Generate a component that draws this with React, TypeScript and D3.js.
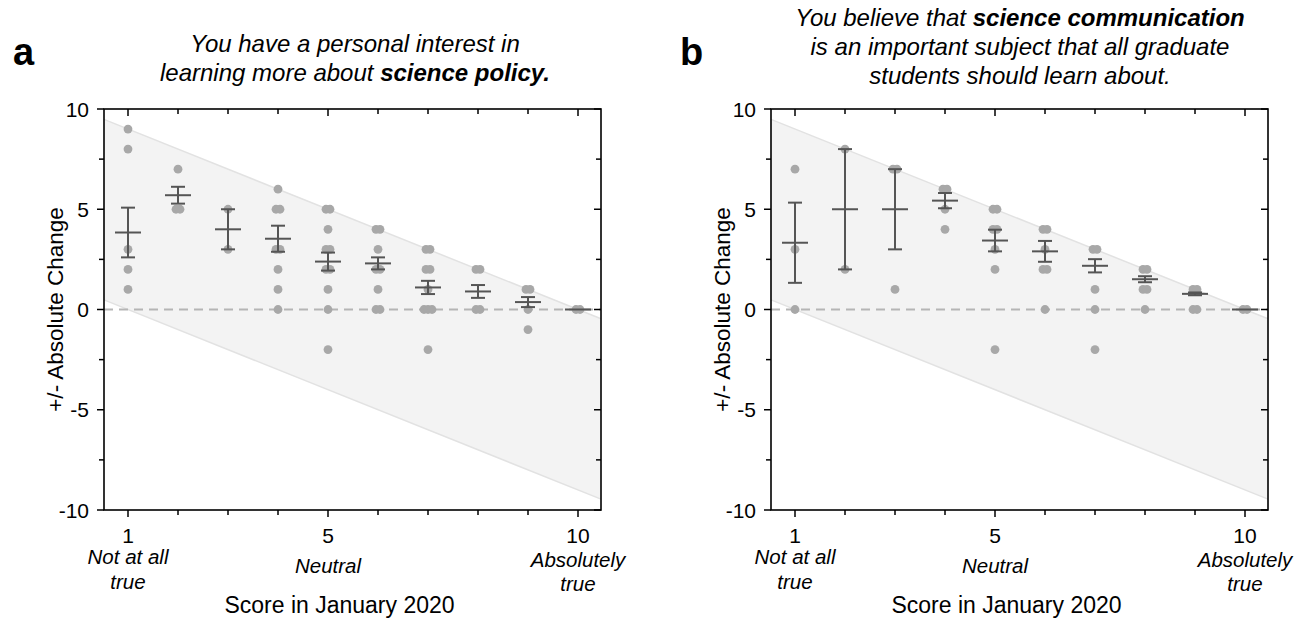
import React from 'react';
import * as d3 from 'd3';

// Score in January 2020 (x positions)
const scores = [1, 2, 3, 4, 5, 6, 7, 8, 9, 10];

// Panel a: personal interest in science policy – individual changes per score
const policyPoints: number[][] = [
  [9, 8, 3, 2, 1],
  [7, 5, 5],
  [5, 3],
  [6, 5, 5, 3, 3, 2, 1, 0],
  [5, 5, 4, 3, 3, 2, 2, 1, 0, -2],
  [4, 4, 3, 2, 2, 1, 0, 0],
  [3, 3, 2, 2, 1, 0, 0, 0, -2],
  [2, 2, 0, 0],
  [1, 1, 0, -1],
  [0, 0],
];
const policyMean = [3.84, 5.7, 4.0, 3.53, 2.39, 2.3, 1.1, 0.9, 0.37, 0];
const policyErr = [1.24, 0.42, 1.0, 0.65, 0.45, 0.3, 0.33, 0.32, 0.25, 0];

// Panel b: science communication is important for all graduate students
const commPoints: number[][] = [
  [7, 3, 0],
  [8, 2],
  [7, 7, 1],
  [6, 6, 5, 4],
  [5, 5, 4, 4, 3, 2, -2],
  [4, 4, 3, 2, 2, 0],
  [3, 3, 1, 0, -2],
  [2, 2, 1, 1, 0],
  [1, 1, 0, 0],
  [0, 0],
];
const commMean = [3.33, 5.0, 5.0, 5.43, 3.44, 2.9, 2.18, 1.51, 0.78, 0];
const commErr = [2.0, 3.0, 2.0, 0.38, 0.54, 0.52, 0.33, 0.15, 0.07, 0];

const yTicks = [-10, -7.5, -5, -2.5, 0, 2.5, 5, 7.5, 10];
const yLabels = [-10, -5, 0, 5, 10];
const xLabels = [1, 5, 10];

const FONT = '"Liberation Sans", Arial, sans-serif';
const TOP = 109;
const BOTTOM = 510;

interface PanelProps {
  left: number;
  right: number;
  letter: string;
  titleLines: React.ReactNode[];
  titleX: number;
  titleY: number;
  points: number[][];
  mean: number[];
  err: number[];
}

const Panel: React.FC<PanelProps> = ({ left, right, letter, titleLines, titleX, titleY, points, mean, err }) => {
  const x = d3.scaleLinear().domain([0.52, 10.46]).range([left, right]);
  const y = d3.scaleLinear().domain([-10, 10]).range([BOTTOM, TOP]);

  // band of possible changes: between 1 - score and 10 - score
  const [x0, x1] = x.domain();
  const band = d3.area<number>()
    .x(d => x(d))
    .y0(d => y(1 - d))
    .y1(d => y(10 - d));
  const edgeTop = d3.line<number>().x(d => x(d)).y(d => y(10 - d));
  const edgeBot = d3.line<number>().x(d => x(d)).y(d => y(1 - d));

  // overlapping answers are nudged sideways a little
  const dots: { cx: number; cy: number }[] = [];
  points.forEach((vals, i) => {
    const groups = d3.rollup(vals, v => v.length, v => v);
    groups.forEach((n, v) => {
      for (let k = 0; k < n; k++) {
        dots.push({ cx: x(scores[i]) + (k - (n - 1) / 2) * 4, cy: y(v) });
      }
    });
  });

  const italic = { fontSize: 20.5, fontStyle: 'italic', textAnchor: 'middle' } as const;

  return (
    <g fontFamily={FONT}>
      <text x={left - 91} y={65} fontSize={38} fontWeight="bold">{letter}</text>
      {titleLines.map((t, i) => (
        <text key={i} x={titleX} y={titleY + i * 29} fontSize={24} fontStyle="italic" textAnchor="middle">{t}</text>
      ))}

      <path d={band([x0, x1]) || ''} fill="#f3f3f3" />
      <path d={edgeTop([x0, x1]) || ''} stroke="#e2e2e2" strokeWidth={1.5} fill="none" />
      <path d={edgeBot([x0, x1]) || ''} stroke="#e2e2e2" strokeWidth={1.5} fill="none" />
      <line x1={left} x2={right} y1={y(0)} y2={y(0)} stroke="#b5b5b5" strokeWidth={2} strokeDasharray="9,6" />

      {dots.map((d, i) => (
        <circle key={i} cx={d.cx} cy={d.cy} r={4.4} fill="#a8a8a8" />
      ))}

      {scores.map((s, i) => {
        const cx = x(s);
        const m = y(mean[i]);
        const hi = y(mean[i] + err[i]);
        const lo = y(mean[i] - err[i]);
        return (
          <g key={s} stroke="#555" strokeWidth={2}>
            <line x1={cx - 13} x2={cx + 13} y1={m} y2={m} />
            {err[i] > 0 && (
              <>
                <line x1={cx} x2={cx} y1={hi} y2={lo} />
                <line x1={cx - 7} x2={cx + 7} y1={hi} y2={hi} />
                <line x1={cx - 7} x2={cx + 7} y1={lo} y2={lo} />
              </>
            )}
          </g>
        );
      })}

      {/* frame */}
      <rect x={left} y={TOP} width={right - left} height={BOTTOM - TOP} fill="none" stroke="#000" strokeWidth={1.6} />

      {/* x ticks: outward on bottom, inward on top */}
      {scores.map(s => {
        const len = xLabels.includes(s) ? 7 : 5;
        return (
          <g key={s} stroke="#000" strokeWidth={1.5}>
            <line x1={x(s)} x2={x(s)} y1={BOTTOM} y2={BOTTOM + len} />
            <line x1={x(s)} x2={x(s)} y1={TOP} y2={TOP + len} />
          </g>
        );
      })}
      {/* y ticks: outward on left, inward on right */}
      {yTicks.map(t => {
        const len = yLabels.includes(t) ? 7 : 5;
        return (
          <g key={t} stroke="#000" strokeWidth={1.5}>
            <line x1={left - len} x2={left} y1={y(t)} y2={y(t)} />
            <line x1={right - len} x2={right} y1={y(t)} y2={y(t)} />
          </g>
        );
      })}
      {yLabels.map(t => (
        <text key={t} x={left - 15} y={y(t) + 7.5} fontSize={21} textAnchor="end">{t}</text>
      ))}
      {xLabels.map(t => (
        <text key={t} x={x(t)} y={543} fontSize={21} textAnchor="middle">{t}</text>
      ))}

      <text x={x(1)} y={564} {...italic}>Not at all</text>
      <text x={x(1)} y={589} {...italic}>true</text>
      <text x={x(5)} y={573} {...italic}>Neutral</text>
      <text x={x(10)} y={567} {...italic}>Absolutely</text>
      <text x={x(10)} y={591} {...italic}>true</text>
      <text x={(left + right) / 2 - 13} y={613} fontSize={23} textAnchor="middle">Score in January 2020</text>

      <text transform={`translate(${left - 41},${y(0)}) rotate(-90)`} fontSize={22.5} textAnchor="middle">+/- Absolute Change</text>
    </g>
  );
};

const App: React.FC = () => (
  <svg width={1307} height={618} style={{ position: 'absolute', left: 0, top: 0, background: '#fff' }}>
    <Panel
      left={104}
      right={601}
      letter="a"
      titleX={355}
      titleY={52}
      titleLines={[
        'You have a personal interest in',
        <>learning more about <tspan fontWeight="bold">science policy.</tspan></>,
      ]}
      points={policyPoints}
      mean={policyMean}
      err={policyErr}
    />
    <Panel
      left={771}
      right={1268}
      letter="b"
      titleX={1020}
      titleY={26}
      titleLines={[
        <>You believe that <tspan fontWeight="bold">science communication</tspan></>,
        'is an important subject that all graduate',
        'students should learn about.',
      ]}
      points={commPoints}
      mean={commMean}
      err={commErr}
    />
  </svg>
);

export default App;
